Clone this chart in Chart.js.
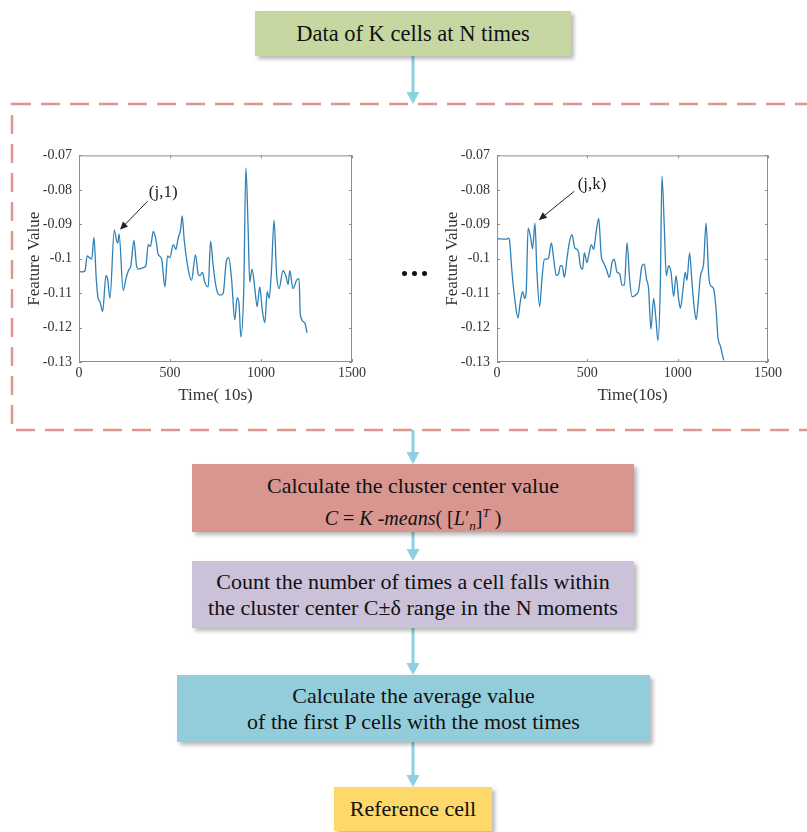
<!DOCTYPE html>
<html>
<head>
<meta charset="utf-8">
<script src="https://cdn.jsdelivr.net/npm/chart.js@4.4.1/dist/chart.umd.min.js"></script>
<style>
  body { margin: 0; background: #fff; }
  #page { position: relative; width: 807px; height: 832px; overflow: hidden; font-family: "Liberation Serif", "Times New Roman", serif; color: #111; }
  .box { position: absolute; box-sizing: border-box; display: flex; flex-direction: column; justify-content: center; align-items: center; text-align: center; font-size: 22px; line-height: 26px; box-shadow: 3px 3px 4px rgba(0,0,0,0.28); }
  .formula { font-size: 20px; line-height: 24px; margin-top: 7px; }
  .formula sub, .formula sup { font-size: 13px; line-height: 0; }
  canvas { position: absolute; }
  svg { position: absolute; left: 0; top: 0; }
  .dots { position: absolute; left: 402px; top: 271px; width: 26px; height: 5px; }
  .dots span { position: absolute; top: 0; width: 5px; height: 5px; border-radius: 50%; background: #111; }
</style>
</head>
<body>
<div id="page">
  <svg width="807" height="832">
    <rect x="12" y="104" width="820" height="326" fill="none" stroke="#e0958f" stroke-width="2.5" stroke-dasharray="19 10"/>
    <g id="arrows" fill="#8dd0e0" stroke="#8dd0e0"></g>
  </svg>

  <div class="box" style="left:255px;top:11px;width:316px;height:45px;background:#c6d7a1;font-size:22.5px;">Data of K cells at N times</div>

  <canvas id="chart1" width="360" height="270" style="left:20px;top:140px;"></canvas>
  <canvas id="chart2" width="358" height="270" style="left:438px;top:140px;"></canvas>
  <div class="dots"><span style="left:0"></span><span style="left:10px"></span><span style="left:20px"></span></div>

  <div class="box" style="left:192px;top:464px;width:442px;height:68px;padding-top:6px;background:#d9958f;">
    <div>Calculate the cluster center value</div>
    <div class="formula"><i>C</i> = <i>K</i> -<i>means</i>( [<i>L</i>&prime;<sub><i>n</i></sub>]<sup><i>T</i></sup> )</div>
  </div>
  <div class="box" style="left:192px;top:561px;width:442px;height:67px;background:#cbc1d9;">
    <div>Count the number of times a cell falls within</div>
    <div>the cluster center C&plusmn;&delta; range in the N moments</div>
  </div>
  <div class="box" style="left:177px;top:675px;width:473px;height:67px;background:#93cddb;">
    <div>Calculate the average value</div>
    <div>of the first P cells with the most times</div>
  </div>
  <div class="box" style="left:334px;top:787px;width:158px;height:44px;background:#fdd86a;">Reference cell</div>
</div>

<script>
// cell (j,1): time (x10 s) and feature value
const time1 = [0, 20, 33, 45, 58, 70, 82, 95, 105, 115, 130, 148, 157, 170, 194, 207, 214, 220, 243, 258,
  271, 285, 302, 316, 327, 357, 368, 380, 393, 408, 423, 435, 454, 472, 487, 499, 518, 532, 545, 558,
  567, 578, 600, 618, 640, 655, 664, 679, 691, 710, 723, 737, 755, 774, 792, 810, 823, 838, 856, 869,
  880, 889, 905, 917, 929, 938, 951, 966, 979, 993, 1008, 1021, 1034, 1045, 1057, 1072, 1085, 1099, 1121, 1136,
  1149, 1158, 1176, 1195, 1209, 1216, 1240, 1253];
const value1 = [-0.1037, -0.1038, -0.1035, -0.0992, -0.0997, -0.1001, -0.0938, -0.1060, -0.1115, -0.1125,
  -0.1153, -0.1049, -0.1058, -0.1115, -0.0916, -0.0949, -0.0954, -0.0928, -0.1092, -0.1058,
  -0.1035, -0.1020, -0.0947, -0.1020, -0.1030, -0.1025, -0.1020, -0.0959, -0.0964, -0.0921,
  -0.0945, -0.0987, -0.1001, -0.1082, -0.0992, -0.0997, -0.0959, -0.0973, -0.0940, -0.0916,
  -0.0876, -0.0945, -0.1030, -0.1063, -0.0989, -0.1045, -0.1049, -0.1040, -0.1068, -0.1082,
  -0.0949, -0.1020, -0.1087, -0.1106, -0.1101, -0.1006, -0.0997, -0.1058, -0.1177, -0.1113,
  -0.1134, -0.1227, -0.1096, -0.0736, -0.0907, -0.1068, -0.1030, -0.1087, -0.1139, -0.1082,
  -0.1153, -0.1186, -0.1096, -0.1115, -0.1039, -0.0888, -0.1039, -0.1087, -0.1035, -0.1049,
  -0.1075, -0.1035, -0.1087, -0.1063, -0.1058, -0.1163, -0.1186, -0.1215];

// cell (j,k)
const time2 = [0, 55, 65, 70, 83, 98, 116, 129, 142, 153, 162, 172, 185, 197, 210, 221, 236, 249, 262, 277,
  286, 301, 314, 328, 341, 351, 360, 373, 387, 400, 415, 430, 443, 452, 461, 474, 483, 498, 507, 522,
  535, 548, 563, 577, 590, 605, 622, 637, 649, 664, 679, 692, 705, 720, 734, 747, 766, 784, 803, 815,
  827, 839, 852, 867, 880, 891, 904, 913, 926, 937, 950, 963, 978, 991, 1006, 1015, 1028, 1042, 1051, 1066,
  1079, 1092, 1103, 1116, 1125, 1144, 1157, 1172, 1181, 1199, 1212, 1223, 1236, 1255];
const value2 = [-0.0942, -0.0943, -0.0940, -0.0949, -0.1039, -0.1115, -0.1172, -0.1125, -0.1096, -0.1115,
  -0.1092, -0.0911, -0.0935, -0.0971, -0.0897, -0.1039, -0.1139, -0.1058, -0.1001, -0.1001,
  -0.0997, -0.0954, -0.1001, -0.1049, -0.1044, -0.1020, -0.1020, -0.1054, -0.1001, -0.0954,
  -0.0930, -0.0968, -0.0973, -0.0983, -0.1020, -0.1030, -0.0983, -0.1011, -0.0992, -0.0959,
  -0.0973, -0.0926, -0.0883, -0.0992, -0.1011, -0.1030, -0.1054, -0.1011, -0.1001, -0.1039,
  -0.1044, -0.1077, -0.1077, -0.0954, -0.1058, -0.1110, -0.1106, -0.1092, -0.1020, -0.1016,
  -0.1058, -0.1087, -0.1205, -0.1115, -0.1177, -0.1238, -0.1077, -0.0760, -0.0907, -0.1049,
  -0.1020, -0.1039, -0.1110, -0.1049, -0.1120, -0.1144, -0.1096, -0.1039, -0.1063, -0.0983,
  -0.1068, -0.1144, -0.1177, -0.1110, -0.1054, -0.1011, -0.0897, -0.1049, -0.1077, -0.1087,
  -0.1144, -0.1229, -0.1253, -0.1295];

const xTicks = [0, 500, 1000, 1500];
const yTicks = [-0.13, -0.12, -0.11, -0.1, -0.09, -0.08, -0.07];

// callout label + arrow, in data units
const note1 = { text: '(j,1)', tx: 463, ty: -0.0807, fromX: 377, fromY: -0.0833, toX: 225, toY: -0.0916 };
const note2 = { text: '(j,k)', tx: 526, ty: -0.0785, fromX: 428, fromY: -0.0804, toX: 231, toY: -0.0888 };

const serif = '"Liberation Serif", "Times New Roman", serif';

// box frame, inward ticks and the callout
const matlabAxes = {
  id: 'matlabAxes',
  afterDraw(chart, args, opts) {
    const ctx = chart.ctx;
    const a = chart.chartArea;
    const xs = chart.scales.x, ys = chart.scales.y;
    ctx.save();
    ctx.strokeStyle = '#8e8e8e';
    ctx.lineWidth = 1;
    ctx.strokeRect(a.left + 0.5, a.top + 0.5, a.right - a.left - 1, a.bottom - a.top - 1);
    ctx.beginPath();
    xTicks.forEach(v => {
      const px = Math.round(xs.getPixelForValue(v)) + 0.5;
      ctx.moveTo(px, a.bottom); ctx.lineTo(px, a.bottom - 3);
      ctx.moveTo(px, a.top); ctx.lineTo(px, a.top + 3);
    });
    yTicks.forEach(v => {
      const py = Math.round(ys.getPixelForValue(v)) + 0.5;
      ctx.moveTo(a.left, py); ctx.lineTo(a.left + 3, py);
      ctx.moveTo(a.right, py); ctx.lineTo(a.right - 3, py);
    });
    ctx.stroke();

    const n = opts.note;
    if (n) {
      const x1 = xs.getPixelForValue(n.fromX), y1 = ys.getPixelForValue(n.fromY);
      const x2 = xs.getPixelForValue(n.toX), y2 = ys.getPixelForValue(n.toY);
      const ang = Math.atan2(y2 - y1, x2 - x1);
      ctx.strokeStyle = '#222';
      ctx.fillStyle = '#222';
      ctx.lineWidth = 1;
      ctx.beginPath();
      ctx.moveTo(x1, y1);
      ctx.lineTo(x2 - 5 * Math.cos(ang), y2 - 5 * Math.sin(ang));
      ctx.stroke();
      ctx.beginPath();
      ctx.moveTo(x2, y2);
      ctx.lineTo(x2 - 8 * Math.cos(ang) + 3.5 * Math.sin(ang), y2 - 8 * Math.sin(ang) - 3.5 * Math.cos(ang));
      ctx.lineTo(x2 - 8 * Math.cos(ang) - 3.5 * Math.sin(ang), y2 - 8 * Math.sin(ang) + 3.5 * Math.cos(ang));
      ctx.closePath();
      ctx.fill();
      ctx.font = '17px ' + serif;
      ctx.textAlign = 'center';
      ctx.textBaseline = 'middle';
      ctx.fillStyle = '#1a1a1a';
      ctx.fillText(n.text, xs.getPixelForValue(n.tx), ys.getPixelForValue(n.ty));
    }
    ctx.restore();
  }
};

function makeChart(id, times, values, xTitle, note) {
  const points = times.map((t, i) => ({ x: t, y: values[i] }));
  return new Chart(document.getElementById(id), {
    type: 'line',
    data: {
      datasets: [{
        data: points,
        borderColor: '#2f80b6',
        borderWidth: 1.3,
        pointRadius: 0,
        cubicInterpolationMode: 'monotone',
        fill: false
      }]
    },
    options: {
      responsive: false,
      animation: false,
      devicePixelRatio: 1,
      layout: { padding: { top: 11, right: 28, left: 0, bottom: 0 } },
      plugins: {
        legend: { display: false },
        tooltip: { enabled: false },
        matlabAxes: { note: note }
      },
      scales: {
        x: {
          type: 'linear',
          min: 0, max: 1500,
          afterBuildTicks: s => { s.ticks = xTicks.map(v => ({ value: v })); },
          afterFit: s => { s.height = 48; },
          grid: { display: false, drawTicks: false },
          border: { display: false },
          ticks: { color: '#333', font: { family: serif, size: 14 }, padding: 3, maxRotation: 0, callback: v => String(v) },
          title: { display: true, text: xTitle, color: '#333', font: { family: serif, size: 17 }, padding: { top: 0, bottom: 4 } }
        },
        y: {
          min: -0.13, max: -0.07,
          afterBuildTicks: s => { s.ticks = yTicks.map(v => ({ value: v })); },
          afterFit: s => { s.width = 59; },
          grid: { display: false, drawTicks: false },
          border: { display: false },
          ticks: {
            color: '#333', font: { family: serif, size: 14 }, padding: 7,
            callback: v => String(Number(v.toFixed(2)))
          },
          title: { display: true, text: 'Feature Value', color: '#333', font: { family: serif, size: 17 }, padding: { top: 4, bottom: 0 } }
        }
      }
    },
    plugins: [matlabAxes]
  });
}

makeChart('chart1', time1, value1, 'Time( 10s)', note1);
makeChart('chart2', time2, value2, 'Time(10s)', note2);

// flow arrows between the steps
const flowArrows = [[56, 104], [430, 464], [532, 561], [628, 675], [742, 787]];
const arrowGroup = document.getElementById('arrows');
flowArrows.forEach(([y1, y2]) => {
  const x = 413;
  arrowGroup.innerHTML +=
    `<line x1="${x}" y1="${y1}" x2="${x}" y2="${y2 - 11}" stroke-width="3"/>` +
    `<polygon points="${x - 6.5},${y2 - 12} ${x + 6.5},${y2 - 12} ${x},${y2}" stroke="none"/>`;
});
</script>
</body>
</html>
